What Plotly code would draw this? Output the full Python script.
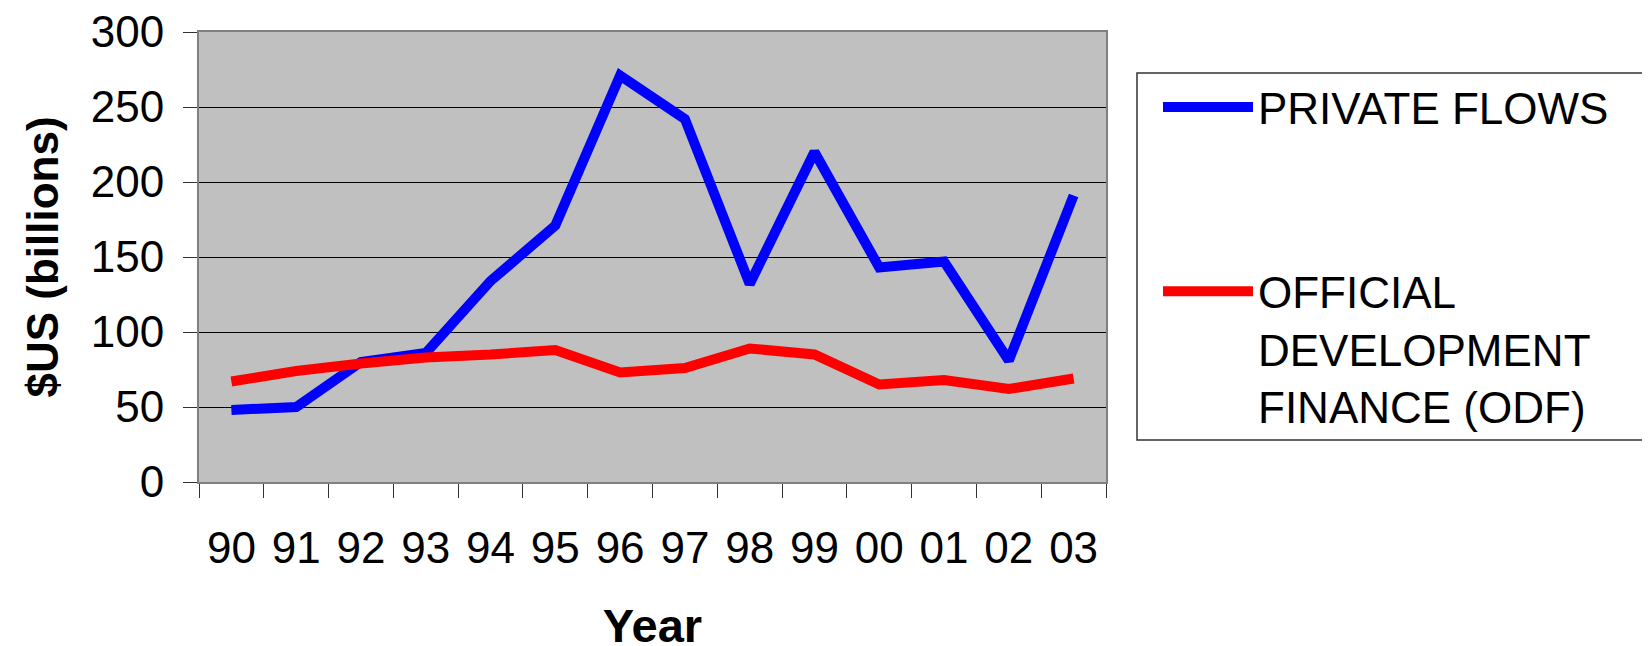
import plotly.graph_objects as go

years = ["90", "91", "92", "93", "94", "95", "96", "97", "98", "99", "00", "01", "02", "03"]
private_flows = [48, 50, 80, 86, 134, 171, 271, 242, 132, 220, 143, 147, 81, 191]
odf = [67, 74, 79, 83, 85, 88, 73, 76, 89, 85, 65, 68, 62, 69]
y_ticks = [0, 50, 100, 150, 200, 250, 300]

FONT = "Liberation Sans, Arial, sans-serif"
W, H = 1650, 646
OFF = 8  # default page body margin
# plot area in page pixels
PL, PR, PT, PB = 199, 1106, 32, 482
L, R, T, B = PL - OFF, W - (PR - OFF), PT - OFF, H - (PB - OFF)

fig = go.Figure()
fig.add_trace(go.Scatter(x=years, y=private_flows, mode="lines", name="PRIVATE FLOWS",
                         line=dict(color="#0000FF", width=10), legendgroup="a"))
fig.add_trace(go.Scatter(x=years, y=odf, mode="lines", name="OFFICIAL<br>DEVELOPMENT<br>FINANCE (ODF)",
                         line=dict(color="#FF0000", width=10), legendgroup="b"))

def px2x(px):
    return (px - PL) / (PR - PL)
def py2y(py):
    return (PB - py) / (PB - PT)

fig.add_shape(type="rect", xref="paper", yref="paper",
              x0=px2x(1137), x1=px2x(1649), y0=py2y(440), y1=py2y(73),
              line=dict(color="#333333", width=1.5), fillcolor="white", layer="below")

fig.update_layout(
    width=W, height=H,
    margin=dict(l=L, r=R, t=T, b=B, autoexpand=False),
    paper_bgcolor="white",
    plot_bgcolor="#C0C0C0",
    font=dict(family=FONT, size=44, color="black"),
    showlegend=True,
    legend=dict(x=px2x(1158), xanchor="left", y=py2y(72), yanchor="top",
                bgcolor="rgba(0,0,0,0)", borderwidth=0,
                font=dict(family=FONT, size=44, color="black"),
                valign="top", itemwidth=90, tracegroupgap=124),
    xaxis=dict(type="category", range=[-0.5, 13.5], showgrid=False,
               tickson="boundaries", ticks="outside", ticklen=14, tickwidth=1, tickcolor="#333333",
               showline=True, linecolor="#808080", linewidth=2, mirror=True,
               tickfont=dict(size=44), ticklabelstandoff=26, ticklabeloverflow="allow",
               title=dict(text="<b>Year</b>", font=dict(size=47), standoff=38)),
    yaxis=dict(range=[0, 300], tickvals=y_ticks, showgrid=True, gridcolor="black", gridwidth=1,
               ticks="outside", ticklen=14, tickwidth=1, tickcolor="#333333",
               showline=True, linecolor="#808080", linewidth=2, mirror=True, zeroline=False,
               tickfont=dict(size=44), ticklabelstandoff=10, ticklabeloverflow="allow",
               title=dict(text="<b>$US (billions)</b>", font=dict(size=44), standoff=18)),
)

fig.write_html("out.html")
